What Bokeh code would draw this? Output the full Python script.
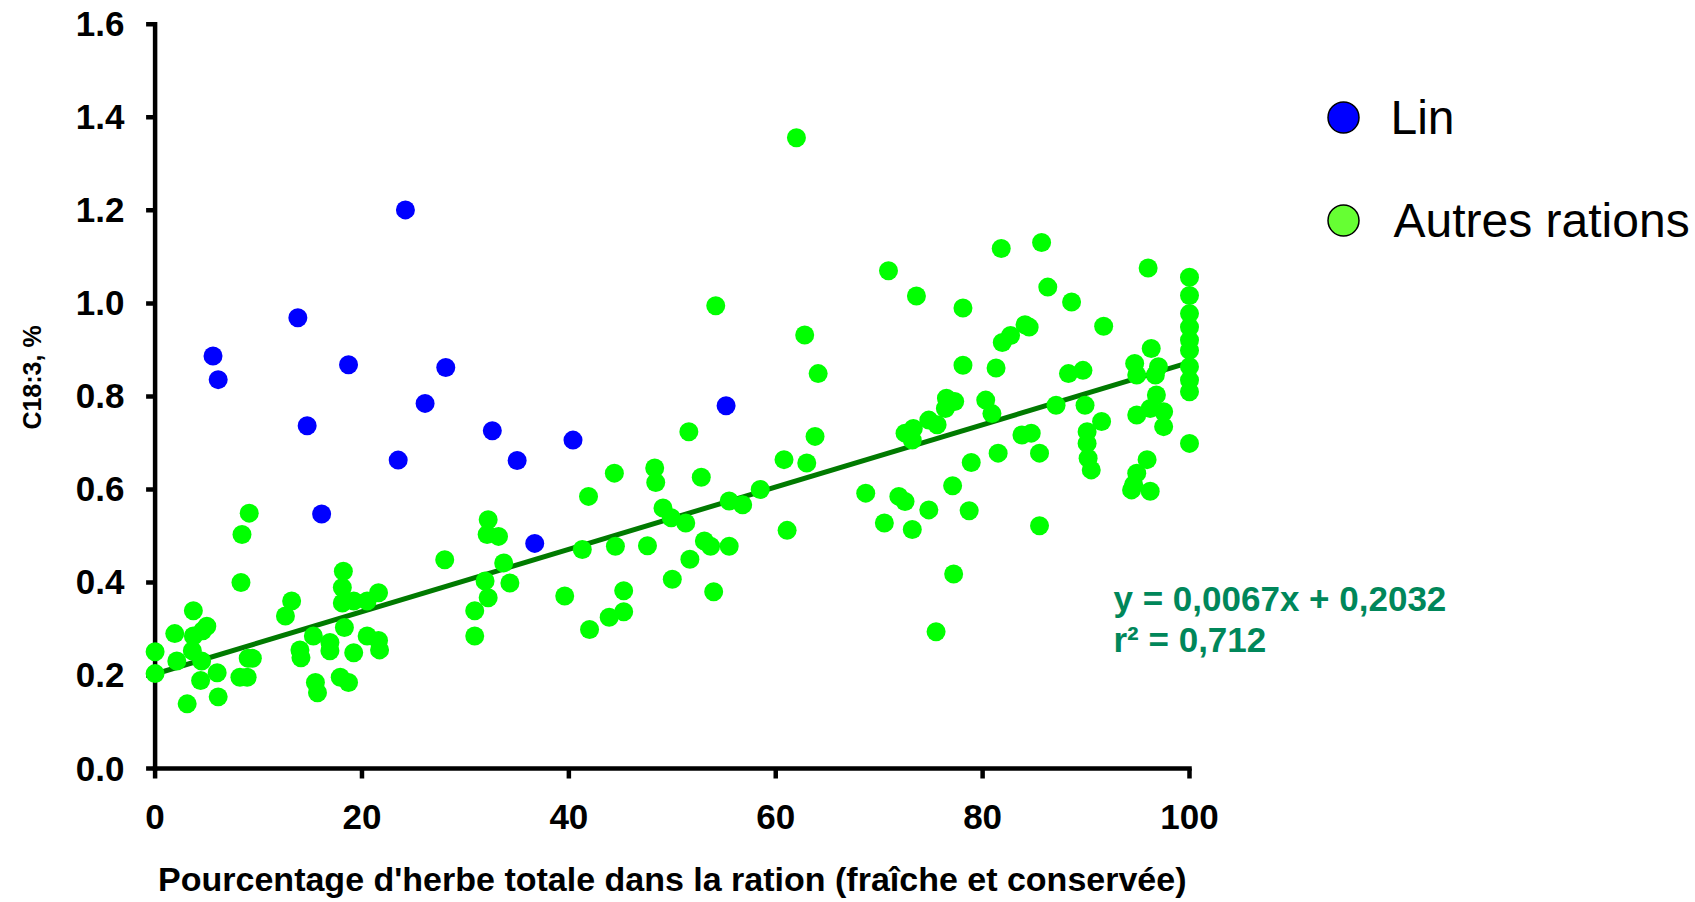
import math
from bokeh.plotting import figure
from bokeh.layouts import row, column
from bokeh.models import Range1d, FixedTicker, PrintfTickFormatter
from bokeh.embed import file_html
from bokeh.resources import INLINE
from bokeh.core.properties import value

# ---------------- data ----------------
series_names = ["Lin", "Autres rations"]

lin_x = [5.6, 6.1, 13.8, 14.7, 16.1, 18.7, 23.5, 24.2, 26.1, 28.1, 32.6, 35.0, 36.7, 40.4, 55.2]
lin_y = [0.887, 0.836, 0.969, 0.737, 0.547, 0.868, 0.663, 1.201, 0.785, 0.862, 0.726, 0.662, 0.484, 0.706, 0.780]

autres_x = [
    0.0, 0.0, 1.9, 2.1, 3.1, 3.7, 3.7, 3.6, 4.5, 4.4, 5.0, 4.6, 6.0, 6.1, 8.2, 8.9, 9.0, 9.4, 8.3, 8.4, 9.1,
    12.6, 13.2, 14.0, 14.1, 15.3, 15.5, 15.7, 16.9, 16.9, 17.9, 18.7, 18.2, 18.1, 18.1, 18.3, 19.2, 19.2,
    20.5, 20.5, 21.6, 21.6, 21.7,
    28.0, 30.9, 30.9, 32.2, 32.1, 33.2, 31.9, 32.2, 33.7, 34.3, 39.6, 41.3, 41.9, 42.0, 43.9, 44.4, 44.5,
    45.3, 45.3,
    47.6, 48.3, 48.4, 49.1, 49.9, 51.3, 50.0, 51.7, 51.6, 52.8, 53.1, 53.7, 54.0, 54.2, 55.5, 55.5, 56.8,
    58.5, 60.8, 61.1, 62.0, 62.8, 63.0, 63.8, 64.1,
    68.7, 70.5, 70.9, 71.9, 72.5, 72.5, 73.2, 73.3, 73.2, 73.6, 74.8, 75.6, 74.8, 75.5, 76.5, 77.3, 76.4,
    77.1, 77.2, 78.1, 78.1, 78.7, 78.9, 80.3, 80.9, 81.3, 81.5, 81.8, 81.9, 82.7, 83.8, 84.1, 84.5, 84.7,
    85.5, 85.5, 85.7, 86.3, 87.1, 88.3, 88.6,
    89.7, 89.9, 90.1, 90.1, 90.2, 90.5, 91.5, 91.7, 94.4, 94.6, 94.7, 94.9, 94.9, 94.9, 95.9, 96.0, 96.2,
    96.2, 96.3, 96.7, 96.8, 97.0, 97.5, 97.5,
    100.0, 100.0, 100.0, 100.0, 100.0, 100.0, 100.0, 100.0, 100.0, 100.0,
]
autres_y = [
    0.251, 0.204, 0.290, 0.231, 0.139, 0.339, 0.285, 0.253, 0.231, 0.189, 0.306, 0.296, 0.206, 0.154, 0.196,
    0.196, 0.237, 0.237, 0.400, 0.503, 0.549,
    0.328, 0.360, 0.255, 0.238, 0.285, 0.185, 0.163, 0.271, 0.253, 0.196, 0.185, 0.424, 0.389, 0.356, 0.303,
    0.360, 0.249, 0.360, 0.285, 0.378, 0.275, 0.255,
    0.449, 0.339, 0.285, 0.535, 0.503, 0.499, 0.403, 0.367, 0.442, 0.399, 0.371, 0.471, 0.585, 0.299, 0.325,
    0.635, 0.478, 0.382, 0.337,
    0.479, 0.646, 0.615, 0.560, 0.539, 0.528, 0.407, 0.450, 0.724, 0.626, 0.489, 0.478, 0.380, 0.995, 0.478,
    0.575, 0.567, 0.600, 0.664, 0.512, 1.356, 0.932, 0.657, 0.714, 0.849,
    0.592, 0.528, 1.070, 0.585, 0.574, 0.721, 0.706, 0.731, 0.514, 1.016, 0.749, 0.739, 0.556, 0.294, 0.796,
    0.789, 0.774, 0.608, 0.418, 0.990, 0.867, 0.554, 0.658, 0.792, 0.763, 0.861, 0.678, 1.118, 0.916, 0.931,
    0.717, 0.954, 0.949, 0.721, 0.678, 0.522, 1.131, 1.035, 0.781, 0.849, 1.003,
    0.856, 0.781, 0.724, 0.699, 0.667, 0.642, 0.746, 0.951, 0.599, 0.610, 0.871, 0.846, 0.760, 0.635, 0.664,
    1.076, 0.774, 0.596, 0.903, 0.846, 0.803, 0.864, 0.767, 0.735,
    1.056, 1.017, 0.978, 0.949, 0.921, 0.899, 0.864, 0.835, 0.810, 0.699,
]

slope = 0.0067
intercept = 0.2032
r2 = 0.712

x_ticks = [0, 20, 40, 60, 80, 100]
y_ticks = [0.0, 0.2, 0.4, 0.6, 0.8, 1.0, 1.2, 1.4, 1.6]
x_title = "Pourcentage d'herbe totale dans la ration (fraîche et conservée)"
y_title = "C18:3, %"

# ---------------- layout (pixels on the page) ----------------
W, H = 1693, 900
YT_W = 60            # strip on the left holding the y-axis title
H_MAIN = 850         # height of the main plot; the x-axis title strip lies below
FL, FR, FT, FB = 126, W, 12, 779
X0_PX, X100_PX = 154.6, 1189.0
Y0_PX, Y16_PX = 768.0, 23.8
ppx = (X100_PX - X0_PX) / (x_ticks[-1] - x_ticks[0])
ppy = (Y0_PX - Y16_PX) / (y_ticks[-1] - y_ticks[0])


def dx(px):
    return x_ticks[0] + (px - X0_PX) / ppx


def dy(py):
    return y_ticks[0] + (Y0_PX - py) / ppy


FONT = "Liberation Sans"


def clean(fig):
    fig.outline_line_color = None
    fig.background_fill_color = "white"
    fig.border_fill_color = "white"
    fig.grid.visible = False


x_range = Range1d(dx(FL), dx(FR))
y_range = Range1d(dy(FB), dy(FT))

p = figure(
    width=W - YT_W, height=H_MAIN,
    x_range=x_range, y_range=y_range,
    output_backend="svg", toolbar_location=None,
    min_border_left=FL - YT_W, min_border_right=W - FR,
    min_border_top=FT, min_border_bottom=H_MAIN - FB,
)
clean(p)

p.xaxis.ticker = FixedTicker(ticks=x_ticks)
p.yaxis.ticker = FixedTicker(ticks=y_ticks)
p.yaxis.formatter = PrintfTickFormatter(format="%.1f")
for ax in (p.xaxis, p.yaxis):
    ax.axis_line_color = None
    ax.major_tick_line_color = None
    ax.minor_tick_line_color = None
    ax.major_tick_out = 0
    ax.major_tick_in = 0
    ax.major_label_text_font = FONT
    ax.major_label_text_font_style = "bold"
    ax.major_label_text_font_size = "35px"
    ax.major_label_text_color = "black"
p.xaxis.major_label_standoff = 25
p.yaxis.major_label_standoff = 2

# axis lines and ticks drawn in data space (axis at x=0, y=0)
AX_W = 4.5
p.segment(x0=[x_ticks[0], x_ticks[0]], y0=[y_ticks[0], y_ticks[0]],
          x1=[x_ticks[0], x_ticks[-1]], y1=[y_ticks[-1], y_ticks[0]],
          line_color="black", line_width=AX_W, line_cap="square")
p.segment(x0=[x_ticks[0] - 9 / ppx] * len(y_ticks), y0=y_ticks,
          x1=[x_ticks[0]] * len(y_ticks), y1=y_ticks,
          line_color="black", line_width=AX_W)
p.segment(x0=x_ticks, y0=[y_ticks[0]] * len(x_ticks),
          x1=x_ticks, y1=[y_ticks[0] - 10 / ppy] * len(x_ticks),
          line_color="black", line_width=AX_W)

# regression line
fit_x = [x_ticks[0], x_ticks[-1]]
fit_y = [intercept + slope * v for v in fit_x]
p.line(fit_x, fit_y, line_color="#007a00", line_width=5)

# points
p.scatter(autres_x, autres_y, size=19, fill_color="#00ff00", line_color=None, marker="circle")
p.scatter(lin_x, lin_y, size=19, fill_color="#0000ff", line_color=None, marker="circle")

# legend (manual, right of the plotting area)
leg_x = dx(1343)
leg_y = [dy(117), dy(220)]
p.scatter([leg_x, leg_x], leg_y, size=31, fill_color=["#0000ff", "#66ff33"],
          line_color="black", line_width=1.5, marker="circle")
p.text([dx(1390), dx(1393)], leg_y, text=series_names, text_font=value(FONT),
       text_font_size="48px", text_baseline="middle", text_align="left", text_color="black")

# equation
eq1 = "y = " + f"{slope:.4f}".replace(".", ",") + "x + " + f"{intercept:.4f}".replace(".", ",")
eq2 = "r\u00b2 = " + f"{r2:.3f}".replace(".", ",")
p.text([dx(1113), dx(1113)], [dy(598), dy(639)], text=[eq1, eq2], text_font=value(FONT),
       text_font_size="35px", text_font_style="bold", text_color="#00875a",
       text_baseline="middle", text_align="left")

# ---- y-axis title strip (shares the y scale of the plot) ----
py = figure(
    width=YT_W, height=H_MAIN,
    x_range=Range1d(0, YT_W), y_range=y_range,
    output_backend="svg", toolbar_location=None,
    x_axis_location=None, y_axis_location=None,
    min_border_left=0, min_border_right=0,
    min_border_top=FT, min_border_bottom=H_MAIN - FB,
)
clean(py)
py.text([31], [dy(377)], text=[y_title], angle=math.pi / 2, text_font=value(FONT),
        text_font_size="25px", text_font_style="bold", text_color="black",
        text_align="center", text_baseline="middle")

# ---- x-axis title strip (shares the x scale of the plot) ----
H_XT = H - H_MAIN
px = figure(
    width=W - YT_W, height=H_XT,
    x_range=x_range, y_range=Range1d(0, H_XT),
    output_backend="svg", toolbar_location=None,
    x_axis_location=None, y_axis_location=None,
    min_border_left=FL - YT_W, min_border_right=W - FR,
    min_border_top=0, min_border_bottom=0,
)
clean(px)
px.text([(x_ticks[0] + x_ticks[-1]) / 2], [22], text=[x_title], text_font=value(FONT),
        text_font_size="34px", text_font_style="bold", text_color="black",
        text_align="center", text_baseline="middle")

layout = row(py, column(p, px, spacing=0), spacing=0)

open("out.html", "w").write(file_html(layout, INLINE))
